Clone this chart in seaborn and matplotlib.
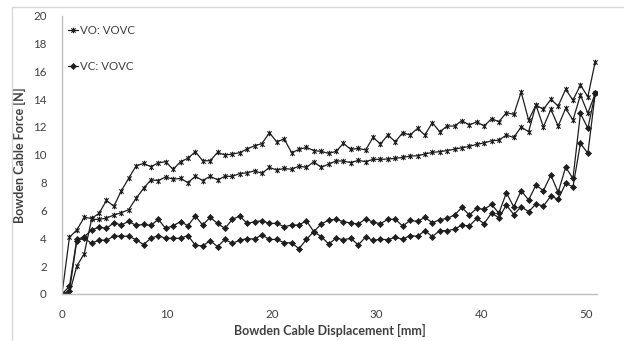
import numpy as np
import pandas as pd
import seaborn as sns
import matplotlib
matplotlib.use("Agg")
import matplotlib.pyplot as plt
from matplotlib.path import Path
from matplotlib.lines import Line2D

# Displacement samples [mm]
displacement = [0.00, 0.71, 1.41, 2.12, 2.82, 3.53, 4.24, 4.94, 5.65, 6.35, 7.06, 7.77,
                8.47, 9.18, 9.88, 10.59, 11.30, 12.00, 12.71, 13.41, 14.12, 14.83, 15.53,
                16.24, 16.94, 17.65, 18.36, 19.06, 19.77, 20.47, 21.18, 21.89, 22.59, 23.30,
                24.00, 24.71, 25.42, 26.12, 26.83, 27.53, 28.24, 28.95, 29.65, 30.36, 31.06,
                31.77, 32.48, 33.18, 33.89, 34.59, 35.30, 36.01, 36.71, 37.42, 38.12, 38.83,
                39.54, 40.24, 40.95, 41.65, 42.36, 43.07, 43.77, 44.48, 45.18, 45.89, 46.60,
                47.30, 48.01, 48.71, 49.42, 50.13, 50.83]

# Cable force [N], VO condition (two runs)
vo_run1 = [0.0, 4.07, 4.6, 5.5, 5.43, 5.79, 6.72, 6.3, 7.4, 8.3, 9.19, 9.38, 9.14, 9.42,
           9.5, 8.95, 9.5, 9.74, 10.22, 9.57, 9.57, 10.17, 9.98, 10.05, 10.15, 10.41, 10.65,
           10.8, 11.58, 10.93, 11.13, 10.15, 10.38, 10.53, 10.3, 10.24, 10.1, 10.24, 10.82,
           10.38, 10.46, 10.34, 11.25, 10.77, 11.42, 10.94, 11.58, 11.42, 11.89, 11.42, 12.3,
           11.65, 12.06, 12.06, 12.45, 12.13, 12.37, 12.06, 12.59, 12.37, 13.02, 12.9, 14.5,
           12.49, 13.57, 13.26, 13.97, 13.5, 14.7, 13.92, 15.0, 14.17, 16.68]
vo_run2 = [0.0, 0.05, 2.0, 2.9, 5.36, 5.36, 5.45, 5.67, 5.84, 6.05, 6.87, 7.58, 8.19, 8.15,
           8.4, 8.25, 8.3, 8.0, 8.45, 8.15, 8.45, 8.2, 8.45, 8.45, 8.65, 8.7, 8.85, 8.66, 9.09,
           8.9, 9.02, 8.95, 9.19, 9.09, 9.5, 9.09, 9.33, 9.55, 9.55, 9.43, 9.6, 9.5, 9.67,
           9.67, 9.69, 9.74, 9.81, 9.9, 9.93, 10.05, 10.17, 10.22, 10.3, 10.4, 10.5, 10.6,
           10.75, 10.85, 11.0, 11.05, 11.41, 11.24, 12.0, 11.65, 13.57, 12.0, 13.26, 12.06,
           13.33, 12.49, 14.29, 12.98, 14.4]

# Cable force [N], VC condition (two runs)
vc_run1 = [0.0, 0.55, 3.93, 4.1, 4.6, 4.8, 4.71, 5.12, 4.95, 5.22, 4.92, 5.0, 4.92, 5.36,
           4.71, 4.9, 5.2, 4.9, 5.6, 4.95, 5.5, 5.07, 4.71, 5.36, 5.6, 5.07, 5.19, 5.26, 5.07,
           5.07, 4.83, 4.95, 4.95, 5.26, 4.48, 5.02, 5.31, 5.36, 5.19, 5.1, 5.02, 5.4, 5.15,
           5.05, 5.36, 5.36, 4.88, 5.28, 5.22, 5.5, 5.12, 5.33, 5.43, 5.67, 6.22, 5.67, 6.15,
           6.08, 6.43, 5.8, 7.27, 6.25, 7.42, 6.75, 7.82, 7.42, 8.54, 7.3, 9.1, 8.3, 12.97,
           11.9, 14.4]
vc_run2 = [0.0, 0.2, 3.83, 4.0, 3.64, 3.88, 3.85, 4.16, 4.15, 4.15, 3.9, 3.55, 4.0, 4.2,
           4.0, 4.0, 4.0, 4.2, 3.5, 3.45, 3.83, 3.4, 3.92, 3.63, 3.87, 3.97, 3.95, 4.24, 3.92,
           3.92, 3.68, 3.68, 3.25, 3.92, 4.48, 4.12, 3.59, 4.0, 3.9, 4.0, 3.52, 4.1, 3.85,
           3.93, 3.9, 4.07, 3.93, 4.2, 4.14, 4.55, 4.12, 4.55, 4.55, 4.65, 4.95, 4.88, 5.43,
           5.05, 5.82, 5.47, 6.39, 5.7, 6.27, 5.91, 6.46, 6.32, 7.03, 6.8, 7.94, 7.7, 10.82,
           10.1, 14.4]

legend_labels = ["VO: VOVC", "VC: VOVC"]
x_ticks = [0, 10, 20, 30, 40, 50]
y_ticks = [0, 2, 4, 6, 8, 10, 12, 14, 16, 18, 20]

sns.set_theme(style="white")
plt.rcParams["font.family"] = ["Lato", "DejaVu Sans"]

TEXT = "#404040"
LINE = "#1e1e1e"
AXIS = "#bfbfbf"

# star marker: an "x" crossed by a vertical bar
star = Path([(-1, -1), (1, 1), (-1, 1), (1, -1), (0, -1.3), (0, 1.3)],
            [Path.MOVETO, Path.LINETO, Path.MOVETO, Path.LINETO, Path.MOVETO, Path.LINETO])

fig = plt.figure(figsize=(6.24, 3.41), dpi=100)
ax = fig.add_axes([62 / 624, 1 - 294 / 341, (597 - 62) / 624, (294 - 15.5) / 341])

df = pd.DataFrame({"x": displacement, "vo1": vo_run1, "vo2": vo_run2,
                   "vc1": vc_run1, "vc2": vc_run2})

vo_style = dict(color=LINE, lw=0.9, marker=star, markersize=4.0, markeredgewidth=0.8,
                markeredgecolor=LINE, markerfacecolor="none")
vc_style = dict(color=LINE, lw=0.9, marker="D", markersize=3.1, markeredgewidth=0.5,
                markeredgecolor=LINE, markerfacecolor=LINE)

for col in ["vo1", "vo2"]:
    sns.lineplot(data=df, x="x", y=col, ax=ax, sort=False, estimator=None,
                 legend=False, **vo_style)
for col in ["vc1", "vc2"]:
    sns.lineplot(data=df, x="x", y=col, ax=ax, sort=False, estimator=None,
                 legend=False, **vc_style)

ax.set_xlim(0, 51)
ax.set_ylim(0, 20)
ax.set_xticks(x_ticks)
ax.set_yticks(y_ticks)
ax.tick_params(axis="both", length=0, labelsize=8.3, colors=TEXT)
ax.tick_params(axis="x", pad=11)
ax.tick_params(axis="y", pad=11)
for side in ["top", "right"]:
    ax.spines[side].set_visible(False)
for side in ["left", "bottom"]:
    ax.spines[side].set_color(AXIS)
    ax.spines[side].set_linewidth(1.0)
ax.grid(False)

ax.set_xlabel("Bowden Cable Displacement [mm]", fontsize=9, fontweight="bold",
              color=TEXT, labelpad=3)
ax.set_ylabel("Bowden Cable Force [N]", fontsize=9, fontweight="bold",
              color=TEXT, labelpad=5)

handles = [Line2D([], [], **vo_style), Line2D([], [], **vc_style)]
fig.legend(handles, legend_labels, loc="upper left", bbox_to_anchor=(68 / 624, 1 - 25 / 341),
           frameon=False, fontsize=8.3, handlelength=0.9, handletextpad=0.15,
           labelspacing=2.2, labelcolor=TEXT, borderaxespad=0, borderpad=0)

# chart-area border along the left and top edges
fig.add_artist(Line2D([11.5 / 624, 11.5 / 624], [0, 1 - 7 / 341],
                      transform=fig.transFigure, color="#d9d9d9", lw=1))
fig.add_artist(Line2D([11.5 / 624, 1], [1 - 7 / 341, 1 - 7 / 341],
                      transform=fig.transFigure, color="#d9d9d9", lw=1))

fig.savefig("out.png", dpi=100)
